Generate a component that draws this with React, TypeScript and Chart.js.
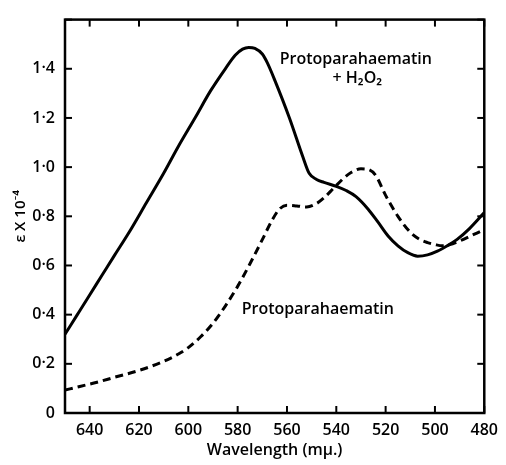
import React, { useEffect, useRef } from 'react';
import { Chart, registerables } from 'chart.js';

Chart.register(...registerables);

// Protoparahaematin + H2O2 (solid)
const solidWavelengths = [650, 645, 640, 635, 630, 624, 617, 610, 604, 597, 591, 585, 581, 578, 575.5, 573, 570, 568, 565, 559, 553.5, 551, 548, 545, 540, 536, 532, 527, 523, 519, 515, 511, 507, 503, 499, 495, 491, 486, 480];
const solidValues = [0.32, 0.4, 0.48, 0.56, 0.64, 0.735, 0.855, 0.975, 1.085, 1.205, 1.31, 1.4, 1.455, 1.48, 1.487, 1.483, 1.46, 1.425, 1.355, 1.2, 1.04, 0.975, 0.95, 0.938, 0.922, 0.905, 0.88, 0.828, 0.775, 0.72, 0.68, 0.652, 0.638, 0.643, 0.658, 0.68, 0.706, 0.75, 0.815];

// Protoparahaematin (dashed)
const dashedWavelengths = [650, 644, 637, 630, 620, 610, 604, 600, 595, 590, 585, 580, 575, 570, 566, 563, 560, 556, 552, 548, 545, 541, 537, 534, 530, 527, 524, 520, 515, 510, 506, 503, 500, 497, 494, 490, 486, 483, 480];
const dashedValues = [0.093, 0.108, 0.125, 0.145, 0.173, 0.21, 0.24, 0.266, 0.31, 0.365, 0.435, 0.515, 0.607, 0.705, 0.785, 0.83, 0.845, 0.842, 0.838, 0.852, 0.875, 0.915, 0.955, 0.978, 0.993, 0.99, 0.966, 0.885, 0.8, 0.735, 0.705, 0.693, 0.685, 0.68, 0.685, 0.7, 0.718, 0.732, 0.746];

const xTickValues = [640, 620, 600, 580, 560, 540, 520, 500, 480];
const yTickValues = [0, 0.2, 0.4, 0.6, 0.8, 1.0, 1.2, 1.4];
const yTopValue = 1.6;

const solidLabelLines = ['Protoparahaematin', '+ H₂O₂'];
const dashedLabel = 'Protoparahaematin';
const xTitle = 'Wavelength (mμ.)';
const yTitle = 'ε X 10⁻⁴';

const FONT = '"Open Sans", Lato, sans-serif';

const framePlugin = {
  id: 'frame',
  afterDraw(chart: any) {
    const { ctx, chartArea, scales } = chart;
    const { left, right, top, bottom } = chartArea;
    const x = scales.x;
    const y = scales.y;
    ctx.save();
    ctx.strokeStyle = '#000';
    ctx.lineWidth = 2.5;
    ctx.strokeRect(left, top, right - left, bottom - top);
    ctx.lineWidth = 2;
    const L = 7;
    const seg = (x1: number, y1: number, x2: number, y2: number) => {
      ctx.beginPath();
      ctx.moveTo(x1, y1);
      ctx.lineTo(x2, y2);
      ctx.stroke();
    };
    for (const v of xTickValues) {
      const px = x.getPixelForValue(v);
      seg(px, bottom, px, bottom - L);
      seg(px, top, px, top + L);
    }
    for (const v of [...yTickValues, yTopValue]) {
      const py = y.getPixelForValue(v);
      seg(left, py, left + L, py);
      seg(right, py, right - L, py);
    }
    // curve labels
    ctx.fillStyle = '#000';
    ctx.textAlign = 'center';
    ctx.textBaseline = 'middle';
    ctx.font = `600 16px ${FONT}`;
    ctx.fillText(solidLabelLines[0], x.getPixelForValue(532.1), y.getPixelForValue(1.437));
    ctx.fillText(solidLabelLines[1], x.getPixelForValue(531.5), y.getPixelForValue(1.36));
    ctx.fillText(dashedLabel, x.getPixelForValue(547.5), y.getPixelForValue(0.42));
    ctx.restore();
  },
};

export default function App() {
  const canvasRef = useRef<HTMLCanvasElement | null>(null);

  useEffect(() => {
    const canvas = canvasRef.current;
    if (!canvas) return;
    const solidData = solidWavelengths.map((w, i) => ({ x: w, y: solidValues[i] }));
    const dashedData = dashedWavelengths.map((w, i) => ({ x: w, y: dashedValues[i] }));

    const chart = new Chart(canvas, {
      type: 'line',
      data: {
        datasets: [
          {
            label: 'Protoparahaematin + H₂O₂',
            data: solidData,
            borderColor: '#000',
            borderWidth: 3,
            pointRadius: 0,
            fill: false,
            cubicInterpolationMode: 'monotone',
          },
          {
            label: 'Protoparahaematin',
            data: dashedData,
            borderColor: '#000',
            borderWidth: 3,
            borderDash: [8, 5],
            pointRadius: 0,
            fill: false,
            cubicInterpolationMode: 'monotone',
          },
        ],
      },
      options: {
        responsive: false,
        animation: false,
        devicePixelRatio: 1,
        layout: { padding: { left: 0, right: 10, top: 11, bottom: 0 } },
        plugins: {
          legend: { display: false },
          tooltip: { enabled: false },
        },
        scales: {
          x: {
            type: 'linear',
            min: 480,
            max: 650,
            reverse: true,
            afterBuildTicks: (scale: any) => {
              scale.ticks = xTickValues.map((v) => ({ value: v }));
            },
            afterFit: (scale: any) => {
              scale.height = 52;
            },
            grid: { display: false, drawTicks: false },
            border: { display: false },
            ticks: {
              color: '#000',
              padding: 8,
              maxRotation: 0,
              font: { family: FONT, size: 16, weight: '600' },
              callback: (v: any) => String(v),
            },
            title: {
              display: true,
              text: xTitle,
              color: '#000',
              font: { family: FONT, size: 16, weight: '600' },
              padding: { top: 0, bottom: 5 },
            },
          },
          y: {
            type: 'linear',
            min: 0,
            max: yTopValue,
            afterBuildTicks: (scale: any) => {
              scale.ticks = yTickValues.map((v) => ({ value: v }));
            },
            afterFit: (scale: any) => {
              scale.width = 65;
            },
            grid: { display: false, drawTicks: false },
            border: { display: false },
            ticks: {
              color: '#000',
              padding: 10,
              font: { family: FONT, size: 16, weight: '600' },
              callback: (v: any) => (v === 0 ? '0' : Number(v).toFixed(1).replace('.', '·')),
            },
            title: {
              display: true,
              text: yTitle,
              color: '#000',
              font: { family: FONT, size: 15, weight: '600' },
              padding: { top: 12, bottom: 0 },
            },
          },
        },
      },
      plugins: [framePlugin],
    } as any);

    return () => chart.destroy();
  }, []);

  return (
    <div style={{ position: 'fixed', left: 0, top: 0, width: 506, height: 465, background: '#fff' }}>
      <canvas ref={canvasRef} width={506} height={465} style={{ display: 'block', width: 506, height: 465 }} />
    </div>
  );
}
